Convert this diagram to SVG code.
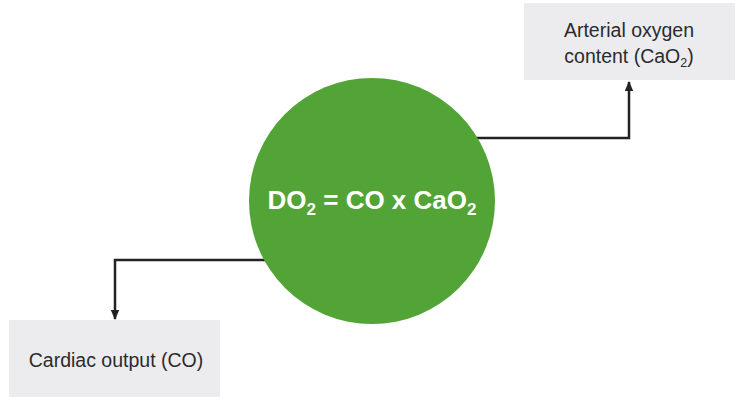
<svg xmlns="http://www.w3.org/2000/svg" width="739" height="400" viewBox="0 0 739 400">
  <style>
    .box { fill: #ececef; }
    .lbl { font-family: "Liberation Sans", Arial, sans-serif; font-size: 19.5px; fill: #2b2b2b; text-anchor: middle; }
    .conn { fill: none; stroke: #222222; stroke-width: 2.5; }
    .eq { font-family: "Liberation Sans", Arial, sans-serif; font-weight: bold; font-size: 26px; fill: #ffffff; text-anchor: middle; }
  </style>
  <defs>
    <marker id="arrow" markerUnits="userSpaceOnUse" markerWidth="10" markerHeight="10" viewBox="0 0 10 10" refX="9" refY="5" orient="auto">
      <path d="M0,0.8 L10,5 L0,9.2 Z" fill="#222222"/>
    </marker>
  </defs>
  <rect width="739" height="400" fill="#ffffff"/>
  <g id="connectors">
    <path class="conn" d="M470,138 H629 V82" marker-end="url(#arrow)"/>
    <path class="conn" d="M272,260 H115 V319" marker-end="url(#arrow)"/>
  </g>
  <g id="node-do2">
    <circle cx="372" cy="201" r="123" fill="#52a436"/>
    <text class="eq" x="372" y="209">DO<tspan font-size="17" dy="6">2</tspan><tspan dy="-6"> = CO x CaO</tspan><tspan font-size="17" dy="6">2</tspan></text>
  </g>
  <g id="node-cao2">
    <rect class="box" x="524" y="3" width="211" height="77"/>
    <text class="lbl" x="629" y="37">Arterial oxygen</text>
    <text class="lbl" x="629" y="63">content (CaO<tspan font-size="12.5" dy="4">2</tspan><tspan dy="-4">)</tspan></text>
  </g>
  <g id="node-co">
    <rect class="box" x="9" y="320" width="211" height="77"/>
    <text class="lbl" x="116" y="367">Cardiac output (CO)</text>
  </g>
</svg>
